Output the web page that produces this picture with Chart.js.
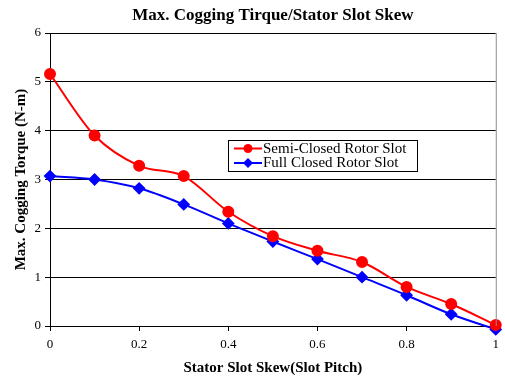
<!DOCTYPE html>
<html><head><meta charset="utf-8">
<script src="https://cdn.jsdelivr.net/npm/chart.js@4/dist/chart.umd.min.js"></script>
<style>html,body{margin:0;padding:0;background:#fff}#wrap{width:505px;height:378px}</style>
</head><body><div id="wrap"><canvas id="c" width="505" height="378"></canvas></div>
<script>
const skew = [0, 0.1, 0.2, 0.3, 0.4, 0.5, 0.6, 0.7, 0.8, 0.9, 1.0];
const semiClosed = [5.16, 3.9, 3.28, 3.07, 2.34, 1.84, 1.54, 1.31, 0.80, 0.45, 0.02];
const fullClosed = [3.07, 3.0, 2.82, 2.49, 2.1, 1.73, 1.37, 1.0, 0.63, 0.24, -0.07];
const seriesNames = ['Semi-Closed Rotor Slot', 'Full Closed Rotor Slot'];
const xTicks = [0, 0.2, 0.4, 0.6, 0.8, 1];
const serif = '"Liberation Serif", "Times New Roman", serif';

const legendBox = {
  id: 'legendBox',
  afterDatasetsDraw(chart) {
    const ctx = chart.ctx;
    const x0 = 228, y0 = 140, w = 189, h = 31;
    ctx.save();
    ctx.fillStyle = '#fff';
    ctx.fillRect(x0, y0, w, h);
    ctx.strokeStyle = '#000';
    ctx.lineWidth = 1;
    ctx.strokeRect(x0 + 0.5, y0 + 0.5, w, h);
    chart.data.datasets.forEach((ds, i) => {
      const y = y0 + 8.5 + i * 14.5;
      ctx.strokeStyle = ds.borderColor;
      ctx.lineWidth = 2;
      ctx.beginPath(); ctx.moveTo(234, y); ctx.lineTo(262, y); ctx.stroke();
      ctx.fillStyle = ds.backgroundColor;
      ctx.beginPath();
      if (ds.pointStyle === 'circle') {
        ctx.arc(248, y, 4.5, 0, Math.PI * 2);
      } else {
        ctx.moveTo(248, y - 5); ctx.lineTo(253, y); ctx.lineTo(248, y + 5); ctx.lineTo(243, y);
        ctx.closePath();
      }
      ctx.fill();
      ctx.fillStyle = '#000';
      ctx.font = '15px ' + serif;
      ctx.textBaseline = 'middle';
      ctx.textAlign = 'left';
      ctx.fillText(ds.label, 263, y + 0.5);
    });
    const a = chart.chartArea;
    ctx.strokeStyle = '#8c8c8c';
    ctx.lineWidth = 1;
    ctx.beginPath(); ctx.moveTo(a.right + 0.5, a.top); ctx.lineTo(a.right + 0.5, a.bottom); ctx.stroke();
    ctx.restore();
  }
};

new Chart(document.getElementById('c'), {
  type: 'line',
  data: {
    datasets: [
      { label: seriesNames[0], data: skew.map((x, i) => ({x, y: semiClosed[i]})),
        borderColor: '#ff0000', backgroundColor: '#ff0000', borderWidth: 2,
        pointStyle: 'circle', pointRadius: 5, pointHoverRadius: 5,
        cubicInterpolationMode: 'monotone', clip: false },
      { label: seriesNames[1], data: skew.map((x, i) => ({x, y: fullClosed[i]})),
        borderColor: '#0000ff', backgroundColor: '#0000ff', borderWidth: 2,
        pointStyle: 'rectRot', pointRadius: 5, pointHoverRadius: 5,
        cubicInterpolationMode: 'monotone', clip: false }
    ]
  },
  options: {
    responsive: false, animation: false,
    devicePixelRatio: 1,
    layout: { padding: { left: 0, right: 8, top: 0, bottom: 1 } },
    plugins: {
      legend: { display: false },
      tooltip: { enabled: false },
      title: { display: true, text: 'Max. Cogging Tirque/Stator Slot Skew', fullSize: false,
        color: '#000', font: { family: serif, size: 17, weight: 'bold' },
        padding: { top: 5, bottom: 7.6 } }
    },
    scales: {
      x: { type: 'linear', min: 0, max: 1,
        afterBuildTicks(s) { s.ticks = xTicks.map(v => ({ value: v })); },
        grid: { drawOnChartArea: false, color: '#000', tickLength: 5 },
        border: { color: '#000', width: 1 },
        ticks: { color: '#000', font: { family: serif, size: 13 }, padding: 6,
          callback: v => String(v) },
        title: { display: true, text: 'Stator Slot Skew(Slot Pitch)', color: '#000',
          font: { family: serif, size: 15, weight: 'bold' }, padding: { top: 6, bottom: 0 } },
        afterFit(s) { s.height = 51; }
      },
      y: { min: 0, max: 6,
        ticks: { stepSize: 1, color: '#000', font: { family: serif, size: 13 }, padding: 4 },
        grid: { color: '#000', tickLength: 5 },
        border: { color: '#000', width: 1 },
        title: { display: true, text: 'Max. Cogging Torque (N-m)', color: '#000',
          font: { family: serif, size: 15, weight: 'bold' }, padding: { top: 12, bottom: 4 } },
        afterFit(s) { s.width = 50; }
      }
    }
  },
  plugins: [legendBox]
});
</script>
</body></html>
